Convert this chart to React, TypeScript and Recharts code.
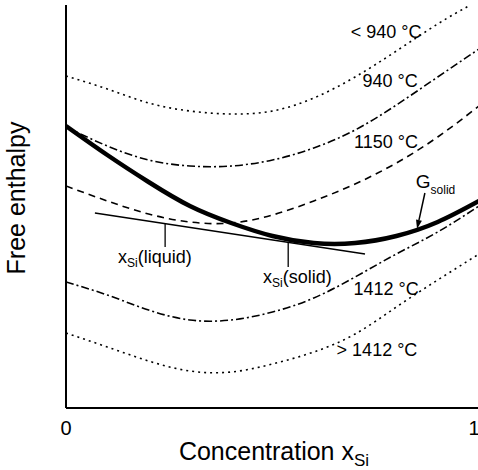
import React from 'react';
import { LineChart, Line, XAxis, YAxis, ReferenceLine, ReferenceDot } from 'recharts';

// Concentration x_Si (0..1) and free enthalpy (arbitrary units)
const concentration = [0, 0.1, 0.2, 0.3, 0.4, 0.5, 0.6, 0.7, 0.8, 0.9, 1.0];
const concentrationBelow940 = [0, 0.1, 0.2, 0.3, 0.4, 0.5, 0.6, 0.7, 0.8, 0.9, 0.975];
const gBelow940 = [332, 319, 305, 297, 294, 297, 310, 331, 357, 384, 402];
const g940 = [281, 262, 248, 242, 242, 248, 260, 278, 303, 331, 359];
const g1150 = [222, 207, 194, 186, 185, 193, 207, 224, 245, 271, 302];
const gSolid = [282, 253, 226, 202, 185, 172, 165, 165, 172, 186, 207];
const g1412 = [126, 113, 98, 88, 88, 96, 110, 131, 154, 176, 202];
const gAbove1412 = [75, 61, 47, 37, 36, 44, 56, 74, 101, 128, 154];

const xTicks = [0, 1];

// common tangent and markers
const tangentX = [0.07, 0.724];
const tangentY = [195, 154];
const xLiquid = 0.24;
const liquidTickY = [185, 161];
const xSolid = 0.538;
const solidTickY = [166, 141];
const arrowFrom = { x: 0.869, y: 215 };
const arrowTo = { x: 0.85, y: 179 };

type Lbl = { x: number; y: number; text: string; anchor: 'start' | 'middle' };
const tempLabels: Lbl[] = [
  { x: 0.775, y: 370, text: '< 940 °C', anchor: 'middle' },
  { x: 0.785, y: 321, text: '940 °C', anchor: 'middle' },
  { x: 0.775, y: 260, text: '1150 °C', anchor: 'middle' },
  { x: 0.775, y: 113, text: '1412 °C', anchor: 'middle' },
  { x: 0.753, y: 52, text: '> 1412 °C', anchor: 'middle' },
];

const FONT = '"Liberation Sans", Arial, Helvetica, sans-serif';

const toData = (xs: number[], ys: number[]) => xs.map((x, i) => ({ x, g: ys[i] }));

const TickLabel = (props: any) => {
  const { x, payload } = props;
  return (
    <text x={x} y={435} textAnchor="middle" fontSize={20} fontFamily={FONT} fill="#000">
      {payload.value}
    </text>
  );
};

const Arrow = (props: any) => {
  const { x1, y1, x2, y2 } = props;
  const dx = x2 - x1;
  const dy = y2 - y1;
  const len = Math.sqrt(dx * dx + dy * dy) || 1;
  const ux = dx / len;
  const uy = dy / len;
  const hl = 9;
  const hw = 3;
  const bx = x2 - ux * hl;
  const by = y2 - uy * hl;
  const pts = `${x2},${y2} ${bx - uy * hw},${by + ux * hw} ${bx + uy * hw},${by - ux * hw}`;
  return (
    <g>
      <line x1={x1} y1={y1} x2={bx} y2={by} stroke="#000" strokeWidth={1.5} />
      <polygon points={pts} fill="#000" />
    </g>
  );
};

export default function App() {
  return (
    <div style={{ position: 'absolute', left: 0, top: 0, background: '#fff' }}>
      <LineChart width={478} height={470} margin={{ top: 5, right: -1, left: 0, bottom: 22 }}>
        <XAxis
          type="number"
          dataKey="x"
          domain={[0, 1]}
          ticks={xTicks}
          tick={<TickLabel />}
          tickLine={false}
          tickSize={0}
          height={40}
          allowDataOverflow
          axisLine={{ stroke: '#000', strokeWidth: 2 }}
          label={{
            content: () => (
              <text x={274} y={460} textAnchor="middle" fontSize={25} fontFamily={FONT} fill="#000">
                Concentration x
                <tspan fontSize={17} dy={6}>Si</tspan>
              </text>
            ),
          }}
        />
        <XAxis
          xAxisId="top"
          orientation="top"
          type="number"
          dataKey="x"
          domain={[0, 1]}
          tick={false}
          tickLine={false}
          height={0}
          axisLine={{ stroke: '#000', strokeWidth: 2 }}
        />
        <YAxis
          type="number"
          domain={[0, 403]}
          width={66}
          tick={false}
          tickLine={false}
          allowDataOverflow
          axisLine={{ stroke: '#000', strokeWidth: 2 }}
          label={{
            content: () => (
              <text
                x={25}
                y={198}
                transform="rotate(-90 25 198)"
                textAnchor="middle"
                fontSize={25}
                fontFamily={FONT}
                fill="#000"
              >
                Free enthalpy
              </text>
            ),
          }}
        />

        <Line data={toData(concentrationBelow940, gBelow940)} dataKey="g" type="natural" stroke="#000" strokeWidth={1.6} strokeDasharray="2 4" dot={false} isAnimationActive={false} />
        <Line data={toData(concentration, g940)} dataKey="g" type="natural" stroke="#000" strokeWidth={1.6} strokeDasharray="8 3 2 3" dot={false} isAnimationActive={false} />
        <Line data={toData(concentration, g1150)} dataKey="g" type="natural" stroke="#000" strokeWidth={1.6} strokeDasharray="7 5" dot={false} isAnimationActive={false} />
        <Line data={toData(concentration, g1412)} dataKey="g" type="natural" stroke="#000" strokeWidth={1.6} strokeDasharray="8 3 2 3" dot={false} isAnimationActive={false} />
        <Line data={toData(concentration, gAbove1412)} dataKey="g" type="natural" stroke="#000" strokeWidth={1.6} strokeDasharray="2 4" dot={false} isAnimationActive={false} />
        <Line data={toData(concentration, gSolid)} dataKey="g" type="natural" stroke="#000" strokeWidth={4.5} dot={false} isAnimationActive={false} />

        <ReferenceLine
          segment={[{ x: tangentX[0], y: tangentY[0] }, { x: tangentX[1], y: tangentY[1] }]}
          stroke="#000"
          strokeWidth={1.3}
        />
        <ReferenceLine
          segment={[{ x: xLiquid, y: liquidTickY[0] }, { x: xLiquid, y: liquidTickY[1] }]}
          stroke="#000"
          strokeWidth={1.3}
        />
        <ReferenceLine
          segment={[{ x: xSolid, y: solidTickY[0] }, { x: xSolid, y: solidTickY[1] }]}
          stroke="#000"
          strokeWidth={1.3}
        />
        <ReferenceLine segment={[arrowFrom, arrowTo]} shape={<Arrow />} />

        {tempLabels.map((l) => (
          <ReferenceDot
            key={l.text}
            x={l.x}
            y={l.y}
            r={0}
            shape={(p: any) => (
              <text x={p.cx} y={p.cy} textAnchor={l.anchor} fontSize={18} fontFamily={FONT} fill="#000">
                {l.text}
              </text>
            )}
          />
        ))}
        <ReferenceDot
          x={0.847}
          y={220}
          r={0}
          shape={(p: any) => (
            <text x={p.cx} y={p.cy} fontSize={19} fontFamily={FONT} fill="#000">
              G<tspan fontSize={12} dy={6}>solid</tspan>
            </text>
          )}
        />
        <ReferenceDot
          x={0.126}
          y={145}
          r={0}
          shape={(p: any) => (
            <text x={p.cx} y={p.cy} fontSize={18} fontFamily={FONT} fill="#000">
              x<tspan fontSize={12} dy={4}>Si</tspan>
              <tspan dy={-4}>(liquid)</tspan>
            </text>
          )}
        />
        <ReferenceDot
          x={0.477}
          y={125}
          r={0}
          shape={(p: any) => (
            <text x={p.cx} y={p.cy} fontSize={18} fontFamily={FONT} fill="#000">
              x<tspan fontSize={12} dy={4}>Si</tspan>
              <tspan dy={-4}>(solid)</tspan>
            </text>
          )}
        />
      </LineChart>
    </div>
  );
}
